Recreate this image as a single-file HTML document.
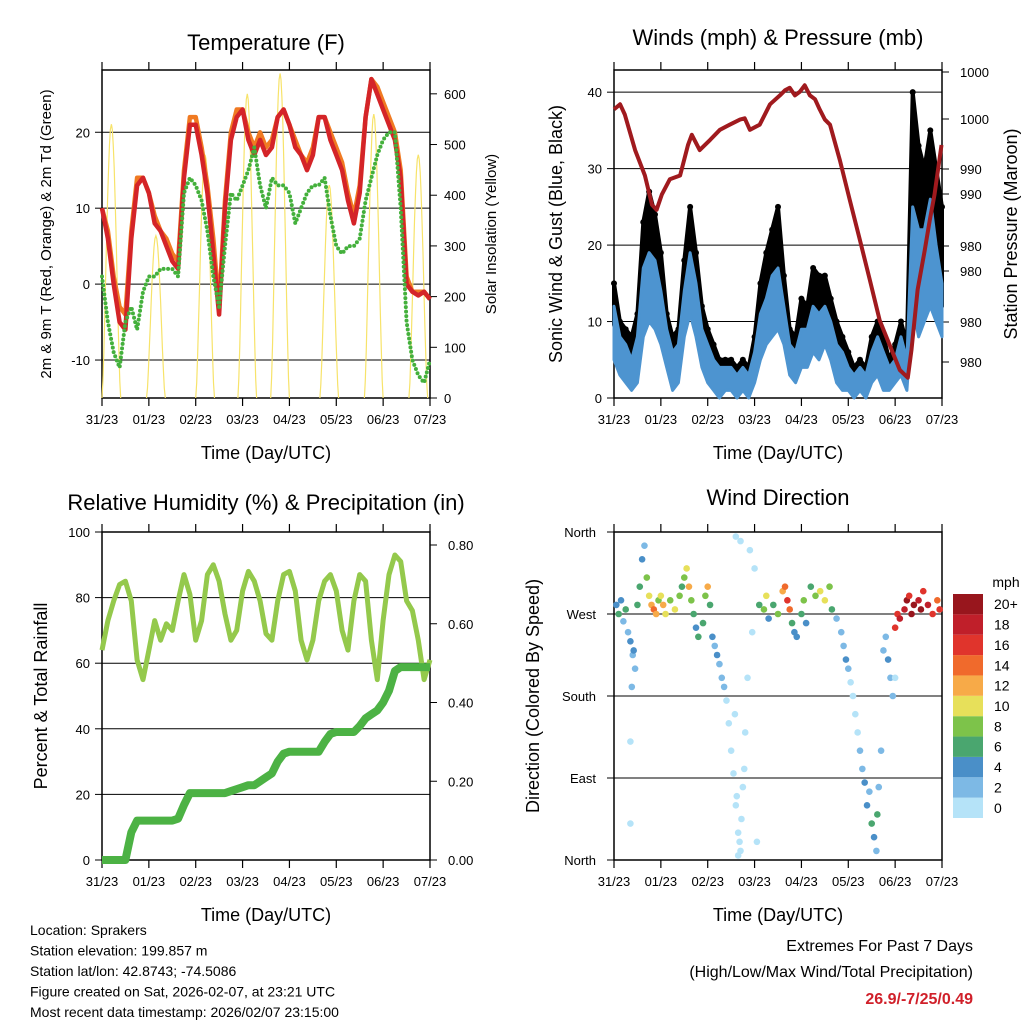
<!DOCTYPE html>
<html><head><meta charset="utf-8"><style>
body{margin:0;background:#fff;}
svg{display:block;font-family:"Liberation Sans",sans-serif;}
</style></head><body>
<svg id="c" width="1024" height="1024" viewBox="0 0 1024 1024"></svg>
<script>
// ---------- DATA ----------
const dayLabels=["31/23","01/23","02/23","03/23","04/23","05/23","06/23","07/23"];
const temp2m=[10,6,0,-5,-6,6,13,14,12,8,7,5,3,2,14,21,21,17,12,4,-4,10,19,22,23,19,17,19,17,18,22,23,21,18,17,15,17,22,22,19,17,15,11,8,12,22,27,25,23,21,19,14,0,-1,-1.5,-1,-2];
const temp9m=[10,7,1,-3,-4,7,14,14,12,9,7,6,4,3,15,22,22,18,13,6,-3,11,20,23,23,20,18,20,18,19,22,23,21,19,17,16,18,22,22,20,18,16,12,9,13,22,27,26,24,22,20,15,1,-1,-1,-1,-2];
const dewpoint=[1,-5,-9,-11,-5,-3,-6,-1,1,1,2,2,2,1,12,14,13,11,7,1,-3,5,12,11,13,15,18,13,10,14,13,13,12,8,10,12,13,13,14,9,5,4,5,5,6,11,14,17,19,20,20,10,-5,-10,-12,-13,-10];
const solarPeakDays=[0.2,1.15,2.2,3.1,3.8,4.85,5.8,6.75];
const solarPeakValues=[540,320,480,600,640,420,560,480];
const pressDays=[0,0.13,0.23,0.45,0.66,0.81,0.91,1.02,1.19,1.41,1.58,1.66,1.83,2.05,2.26,2.47,2.69,2.79,2.9,3.11,3.33,3.54,3.65,3.75,3.86,3.97,4.07,4.18,4.29,4.39,4.5,4.61,4.82,5.03,5.25,5.46,5.67,5.88,6.1,6.27,6.35,6.48,6.63,6.74,6.84,6.99];
const pressure=[997.7,998.1,997.3,994.5,992.5,990.2,989.8,991.0,992.2,992.5,994.9,995.7,994.5,995.3,996.1,996.5,996.9,997.0,996.1,996.5,998.1,998.8,999.2,999.4,998.8,999.1,999.6,998.8,998.5,997.7,996.9,996.5,993.7,990.6,987.4,984.3,981.1,979.2,977.2,976.6,978.8,983.5,986.6,989.0,991.0,994.9];
const windLow=[5,3,2,1,2,8,10,9,7,4,1,2,8,11,8,4,2,1,0,1,1,0,1,0,2,5,7,8,9,7,3,2,4,4,6,5,7,5,2,1,1,0,1,0,2,3,1,1,2,3,1,12,8,10,12,10,8];
const windHigh=[12,8,7,5,8,17,19,18,14,9,6,7,14,19,15,9,7,5,4,4,4,3,4,3,6,11,13,16,17,12,7,6,9,9,12,11,12,10,7,6,4,3,4,3,6,8,6,4,5,8,5,25,22,22,26,20,15];
const gust=[15,10,9,8,11,23,27,24,19,11,8,9,18,25,19,12,9,7,5,5,5,4,5,4,8,15,19,22,25,16,9,8,13,12,17,16,16,13,10,8,6,4,5,4,8,10,8,5,7,10,7,40,33,30,35,30,25];
const rh=[64,73,79,84,85,79,61,55,64,73,67,72,70,79,87,81,67,73,87,90,85,75,67,70,82,88,85,79,69,67,79,87,88,82,67,61,67,79,85,87,82,70,64,79,87,85,67,55,73,87,93,91,79,76,67,55,61];
const precip=[0,0,0,0,0,0.07,0.10,0.10,0.10,0.10,0.10,0.10,0.10,0.105,0.14,0.17,0.17,0.17,0.17,0.17,0.17,0.17,0.175,0.18,0.185,0.19,0.19,0.20,0.21,0.22,0.25,0.27,0.275,0.275,0.275,0.275,0.275,0.275,0.30,0.32,0.325,0.325,0.325,0.325,0.34,0.36,0.37,0.38,0.40,0.43,0.48,0.49,0.49,0.49,0.49,0.49,0.49];
const dirDays=[0.05,0.1,0.15,0.2,0.25,0.3,0.35,0.4,0.45,0.38,0.42,0.35,0.35,0.5,0.55,0.6,0.65,0.7,0.75,0.8,0.85,0.9,0.95,1.0,1.05,1.1,1.2,1.3,1.4,1.45,1.5,1.55,1.6,1.65,1.7,1.75,1.8,1.9,1.95,2.0,2.05,2.1,2.15,2.2,2.25,2.3,2.35,2.4,2.45,2.5,2.55,2.6,2.65,2.7,2.75,2.8,2.85,2.6,2.7,2.65,2.9,3.0,2.95,3.05,3.1,3.2,3.25,3.3,3.4,3.5,3.6,3.65,3.7,3.75,3.8,3.85,3.9,4.0,4.05,4.1,4.2,4.3,4.4,4.5,4.6,4.65,4.75,4.85,4.9,4.95,5.0,5.05,5.1,5.15,5.2,5.25,5.3,5.35,5.4,5.45,5.5,5.55,5.6,5.62,5.65,5.7,5.75,5.8,5.85,5.9,5.95,6.0,6.05,6.1,6.2,6.25,6.3,6.35,6.4,6.5,6.55,6.6,6.7,6.8,6.9,6.95,6.0,2.62,2.68,2.72,2.78,2.58];
const dirDeg=[280,270,285,262,275,250,240,225,210,190,230,130,40,280,300,330,345,310,290,280,275,270,285,290,280,270,285,275,290,300,310,320,300,285,270,255,245,260,290,300,280,245,235,225,215,200,190,175,150,120,95,60,30,10,80,140,200,355,350,5,340,320,250,20,280,275,290,265,280,270,295,300,285,275,260,250,245,270,285,260,300,290,295,285,300,275,265,250,235,220,210,195,180,160,140,120,100,85,60,75,40,25,10,50,80,120,230,245,220,200,180,200,270,265,275,285,290,270,280,285,275,295,280,270,285,275,255,70,20,45,100,160];
const dirSpeed=[5,6,4,3,7,3,4,2,3,2,4,1,1,6,7,5,3,8,10,13,14,12,9,11,12,10,8,11,9,7,8,10,12,9,6,5,6,7,9,12,6,4,3,4,3,2,2,1,1,1,0,1,1,0,1,0,1,0,1,1,1,0,1,1,6,8,10,5,7,9,12,15,17,14,6,5,4,7,9,5,7,8,11,10,9,7,3,2,3,4,2,1,1,1,1,2,2,4,5,3,6,4,3,6,2,2,3,2,4,3,2,1,16,18,19,20,16,21,22,18,20,16,19,17,15,16,17,1,0,1,0,1];
const speedColors=["#b5e3f8","#7db9e5","#4a8fc8","#4aa66f","#7dc34a","#e7e05a","#f7aa48","#f06a2c","#e0342c","#c01f2a","#98161d"];
const speedLabels=["0","2","4","6","8","10","12","14","16","18","20+"];

// ---------- HELPERS ----------
const svg=document.getElementById('c');
const NS='http://www.w3.org/2000/svg';
function mk(tag,attrs,parent){const e=document.createElementNS(NS,tag);for(const k in attrs)e.setAttribute(k,attrs[k]);(parent||svg).appendChild(e);return e;}
function txt(s,x,y,size,anchor,extra){const t=mk('text',Object.assign({x:x,y:y,'font-size':size,'text-anchor':anchor||'middle',fill:'#000'},extra||{}));t.textContent=s;return t;}
function lin(d0,d1,r0,r1){return v=>r0+(v-d0)/(d1-d0)*(r1-r0);}
const idxDay=i=>i*7/56;

function panelFrame(x0,y0,name){
  const g=mk('g',{});
  
  
  mk('rect',{x:x0,y:y0,width:328,height:328,fill:'none',stroke:'#000','stroke-width':1.5},g);
  const X=lin(0,7,x0,x0+328);
  dayLabels.forEach((l,i)=>{
    const xx=X(i);
    mk('line',{x1:xx,y1:y0+328,x2:xx,y2:y0+336,stroke:'#000','stroke-width':1.2},g);
    mk('line',{x1:xx,y1:y0,x2:xx,y2:y0-8,stroke:'#000','stroke-width':1.2},g);
    const t=txt(l,xx,y0+354,13);
    
    
  });
  const xt=txt('Time (Day/UTC)',x0+164,y0+389,18);
  
  
  return X;
}
function hline(x0,y,w){mk('line',{x1:x0,y1:y,x2:x0+w,y2:y,stroke:'#000','stroke-width':1});}
function polyPath(xs,ys){return xs.map((x,i)=>(i?'L':'M')+x.toFixed(1)+','+ys[i].toFixed(1)).join('');}

// ---------- PANEL 1: TEMPERATURE ----------
(function(){
  const x0=102,y0=70;
  const X=panelFrame(x0,y0,'temperature');
  const Y=lin(-15,28.2,398,70);
  const S=lin(0,647,398,70);
  const tt=txt('Temperature (F)',266,50,22);
  [-10,0,10,20].forEach(v=>{hline(x0,Y(v),328);const t=txt(String(v),x0-12,Y(v)+5,13,'end');mk('line',{x1:x0,y1:Y(v),x2:x0-7,y2:Y(v),stroke:'#000'});});
  [0,100,200,300,400,500,600].forEach(v=>{const t=txt(String(v),x0+342,S(v)+5,13,'start');mk('line',{x1:x0+328,y1:S(v),x2:x0+335,y2:S(v),stroke:'#000'});});
  const yl=txt('2m & 9m T (Red, Orange) & 2m Td (Green)',0,0,15,'middle',{transform:'translate(51,234) rotate(-90)'});
  const yr=txt('Solar Insolation (Yellow)',0,0,15,'middle',{transform:'translate(496,234) rotate(-90)'});
  solarPeakDays.forEach((d,k)=>{
    const xs=[],ys=[];
    for(let j=0;j<=20;j++){const dd=d-0.2+j*0.02;const v=solarPeakValues[k]*Math.pow(Math.sin(Math.PI*j/20),1.5);xs.push(X(dd));ys.push(S(v));}
    const p=mk('path',{d:polyPath(xs,ys),fill:'none',stroke:'#f7e36a','stroke-width':1.2});
    
    
  });
  const xs=temp2m.map((v,i)=>X(idxDay(i)));
  const po=mk('path',{d:polyPath(xs,temp9m.map(Y)),fill:'none',stroke:'#f07a22','stroke-width':4.5,'stroke-linejoin':'round'});
  
  const pr=mk('path',{d:polyPath(xs,temp2m.map(Y)),fill:'none',stroke:'#d42428','stroke-width':4.5,'stroke-linejoin':'round'});
  
  const pg=mk('path',{d:polyPath(xs,dewpoint.map(Y)),fill:'none',stroke:'#44b03c','stroke-width':4,'stroke-dasharray':'0 4.5','stroke-linecap':'round'});
  
})();

// ---------- PANEL 2: WINDS & PRESSURE ----------
(function(){
  const x0=614,y0=70;
  const X=panelFrame(x0,y0,'winds');
  const Y=lin(0,42.9,398,70);
  const P=lin(975,1000.8,398,70);
  const tt=txt('Winds (mph) & Pressure (mb)',778,45,22);
  [0,10,20,30,40].forEach(v=>{if(v)hline(x0,Y(v),328);const t=txt(String(v),x0-12,Y(v)+5,13,'end');mk('line',{x1:x0,y1:Y(v),x2:x0-7,y2:Y(v),stroke:'#000'});});
  const pl=[["1000",72],["1000",119],["990",169],["990",194],["980",246],["980",271],["980",322],["980",362]];
  pl.forEach(a=>{const t=txt(a[0],x0+346,a[1]+5,13,'start');mk('line',{x1:x0+328,y1:a[1],x2:x0+335,y2:a[1],stroke:'#000'});});
  const yl=txt('Sonic Wind & Gust (Blue, Black)',0,0,18,'middle',{transform:'translate(562,234) rotate(-90)'});
  const yr=txt('Station Pressure (Maroon)',0,0,18,'middle',{transform:'translate(1017,234) rotate(-90)'});
  const xs=windLow.map((v,i)=>X(idxDay(i)));
  const gTop=gust.map(Y), gBot=windHigh.map(v=>Y(v*0.8));
  const gb=mk('path',{d:polyPath(xs,gTop)+polyPath(xs.slice().reverse(),gBot.slice().reverse()).replace('M','L')+'Z',fill:'#000',stroke:'#000','stroke-width':4,'stroke-linejoin':'round'});
  
  gust.forEach((v,i)=>{const c=mk('circle',{cx:xs[i],cy:Y(v),r:3,fill:'#000'});});
  const bb=mk('path',{d:polyPath(xs,windHigh.map(Y))+polyPath(xs.slice().reverse(),windLow.map(Y).reverse()).replace('M','L')+'Z',fill:'#4d94d0',stroke:'#4d94d0','stroke-width':3,'stroke-linejoin':'round'});
  
  const pp=mk('path',{d:polyPath(pressDays.map(X),pressure.map(P)),fill:'none',stroke:'#a01a1e','stroke-width':4,'stroke-linejoin':'round'});
  
})();

// ---------- PANEL 3: RH & PRECIP ----------
(function(){
  const x0=102,y0=532;
  const X=panelFrame(x0,y0,'humidity');
  const Y=lin(0,100,860,532);
  const R=lin(0,0.8,860,545);
  const tt=txt('Relative Humidity (%) & Precipitation (in)',266,510,22);
  [0,20,40,60,80,100].forEach(v=>{if(v>0&&v<100)hline(x0,Y(v),328);const t=txt(String(v),x0-12,Y(v)+5,13,'end');mk('line',{x1:x0,y1:Y(v),x2:x0-7,y2:Y(v),stroke:'#000'});});
  ["0.00","0.20","0.40","0.60","0.80"].forEach(s=>{const v=parseFloat(s);const t=txt(s,x0+346,R(v)+5,13,'start');mk('line',{x1:x0+328,y1:R(v),x2:x0+335,y2:R(v),stroke:'#000'});});
  const yl=txt('Percent & Total Rainfall',0,0,18,'middle',{transform:'translate(47,696) rotate(-90)'});
  const xs=rh.map((v,i)=>X(idxDay(i)));
  const pr=mk('path',{d:polyPath(xs,rh.map(Y)),fill:'none',stroke:'#94c94c','stroke-width':5,'stroke-linejoin':'round'});
  
  const pp=mk('path',{d:polyPath(xs,precip.map(R)),fill:'none',stroke:'#4cb244','stroke-width':8,'stroke-linejoin':'round'});
  
})();

// ---------- PANEL 4: WIND DIRECTION ----------
(function(){
  const x0=614,y0=532;
  const X=panelFrame(x0,y0,'wind-direction');
  const Y=lin(0,360,860,532);
  const tt=txt('Wind Direction',778,505,22);
  [["North",0],["East",90],["South",180],["West",270],["North",360]].forEach(a=>{if(a[1]>0&&a[1]<360)hline(x0,Y(a[1]),328);const t=txt(a[0],x0-18,Y(a[1])+5,13,'end');mk('line',{x1:x0,y1:Y(a[1]),x2:x0-7,y2:Y(a[1]),stroke:'#000'});});
  const yl=txt('Direction (Colored By Speed)',0,0,18,'middle',{transform:'translate(539,696) rotate(-90)'});
  dirDays.forEach((d,i)=>{
    const bin=Math.min(10,Math.floor(dirSpeed[i]/2));
    const c=mk('circle',{cx:X(d),cy:Y(dirDeg[i]),r:3.3,fill:speedColors[bin]});
    
    
  });
  const t=txt('mph',1006,587,14,'middle');
  const bh=(818-594)/11;
  speedColors.forEach((col,i)=>{
    const yy=818-(i+1)*bh;
    const r=mk('rect',{x:953,y:yy,width:30,height:bh,fill:col});
    
    
    const l=txt(speedLabels[i],994,yy+bh/2+5,14,'start');
    
    
  });
})();

// ---------- FOOTER ----------
["Location: Sprakers","Station elevation: 199.857 m","Station lat/lon: 42.8743; -74.5086","Figure created on Sat, 2026-02-07, at 23:21 UTC","Most recent data timestamp: 2026/02/07 23:15:00"].forEach((s,i)=>{
  const t=txt(s,30,935+i*20.5,14,'start');
  
  
});
const e1=txt('Extremes For Past 7 Days',973,951,16,'end');
const e2=txt('(High/Low/Max Wind/Total Precipitation)',973,977,16,'end');
const e3=txt('26.9/-7/25/0.49',973,1004,16,'end',{fill:'#d0202a','font-weight':'bold'});
</script>
</body></html>
